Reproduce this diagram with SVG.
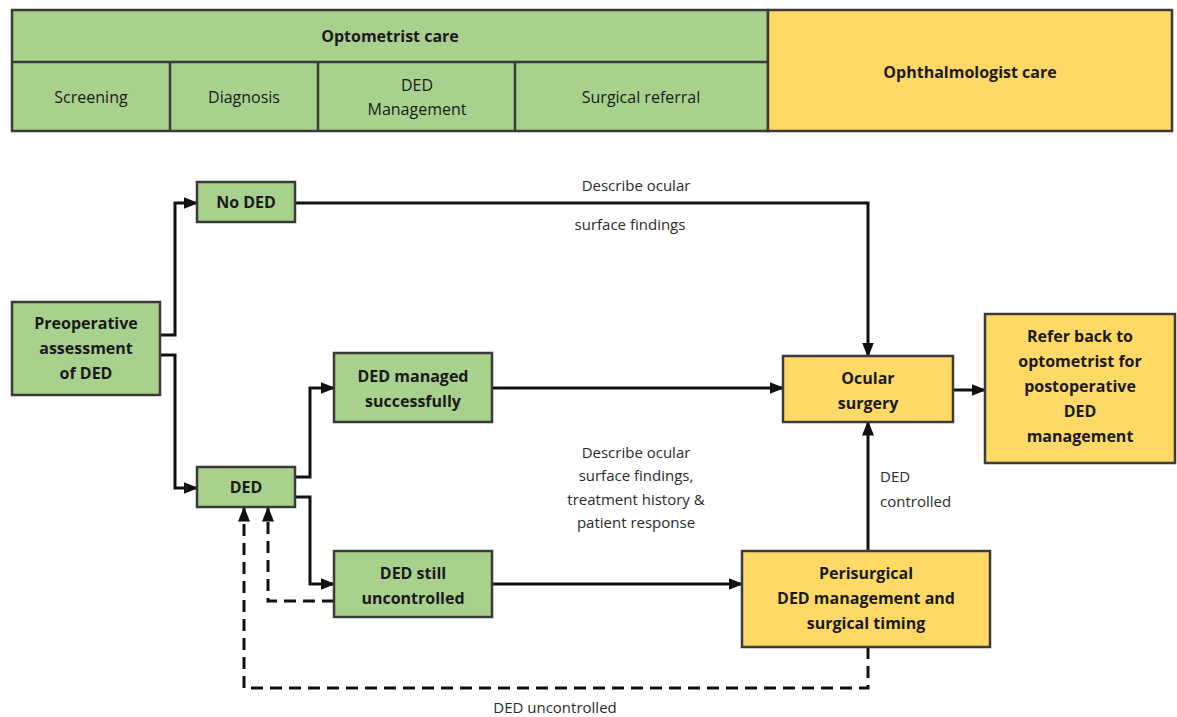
<svg xmlns="http://www.w3.org/2000/svg" width="1177" height="717" viewBox="0 0 1177 717">
<defs>
<marker id="ah" viewBox="0 0 10 10" refX="9" refY="5" markerWidth="5" markerHeight="5" orient="auto" markerUnits="strokeWidth">
<path d="M0,1 L10,5 L0,9 z" fill="#111"/>
</marker>
<style>
.g{fill:#a9d18e;stroke:#3a3a3a;stroke-width:2.5}
.y{fill:#ffd966;stroke:#3a3a3a;stroke-width:2.5}
.t{font-family:"Open Sans","Liberation Sans",sans-serif;font-size:16px;fill:#1a1a1a;text-anchor:middle}
.b{font-weight:bold}
.l{font-family:"Open Sans","Liberation Sans",sans-serif;font-size:15px;fill:#2a2a2a;text-anchor:middle}
.c{fill:none;stroke:#111;stroke-width:3}
.d{fill:none;stroke:#111;stroke-width:3;stroke-dasharray:12 7}
</style>
</defs>
<rect width="1177" height="717" fill="#fff"/>
<g id="header">
<rect class="g" x="12" y="10" width="756" height="121"/>
<rect class="y" x="768" y="10" width="404" height="121"/>
<line x1="12" y1="62" x2="768" y2="62" stroke="#3a3a3a" stroke-width="2.5"/>
<line x1="170" y1="62" x2="170" y2="131" stroke="#3a3a3a" stroke-width="2.5"/>
<line x1="318" y1="62" x2="318" y2="131" stroke="#3a3a3a" stroke-width="2.5"/>
<line x1="515" y1="62" x2="515" y2="131" stroke="#3a3a3a" stroke-width="2.5"/>
<text class="t b" x="390" y="42">Optometrist care</text>
<text class="t" x="91" y="103">Screening</text>
<text class="t" x="244" y="103">Diagnosis</text>
<text class="t" x="417" y="91">DED</text>
<text class="t" x="417" y="115">Management</text>
<text class="t" x="641" y="103">Surgical referral</text>
<text class="t b" x="970" y="78">Ophthalmologist care</text>
</g>
<g id="connectors">
<path class="c" d="M160,335 H175 V203 H197" marker-end="url(#ah)"/>
<path class="c" d="M160,355 H175 V488 H197" marker-end="url(#ah)"/>
<path class="c" d="M295,203 H868 V356" marker-end="url(#ah)"/>
<path class="c" d="M295,477 H310 V388 H334" marker-end="url(#ah)"/>
<path class="c" d="M295,497 H310 V584 H334" marker-end="url(#ah)"/>
<path class="c" d="M492,388 H783" marker-end="url(#ah)"/>
<path class="c" d="M492,584 H742" marker-end="url(#ah)"/>
<path class="c" d="M868,551 V422" marker-end="url(#ah)"/>
<path class="c" d="M953,390 H985" marker-end="url(#ah)"/>
<path class="d" d="M334,601 H268 V508" marker-end="url(#ah)"/>
<path class="d" d="M868,647 V688 H244 V508" marker-end="url(#ah)"/>
<text class="l" x="636" y="191">Describe ocular</text>
<text class="l" x="630" y="230">surface findings</text>
<text class="l" x="636" y="458">Describe ocular</text>
<text class="l" x="636" y="481">surface findings,</text>
<text class="l" x="636" y="505">treatment history &amp;</text>
<text class="l" x="636" y="528">patient response</text>
<text class="l" x="880" y="482" style="text-anchor:start">DED</text>
<text class="l" x="880" y="507" style="text-anchor:start">controlled</text>
<text class="l" x="555" y="713">DED uncontrolled</text>
</g>
<g id="preop">
<rect class="g" x="12" y="302" width="148" height="93"/>
<text class="t b" x="86" y="329">Preoperative</text>
<text class="t b" x="86" y="354">assessment</text>
<text class="t b" x="86" y="379">of DED</text>
</g>
<g id="noded">
<rect class="g" x="197" y="182" width="98" height="40"/>
<text class="t b" x="246" y="208">No DED</text>
</g>
<g id="ded">
<rect class="g" x="197" y="467" width="98" height="40"/>
<text class="t b" x="246" y="493">DED</text>
</g>
<g id="managed">
<rect class="g" x="334" y="353" width="158" height="69"/>
<text class="t b" x="413" y="382">DED managed</text>
<text class="t b" x="413" y="407">successfully</text>
</g>
<g id="uncontrolled">
<rect class="g" x="334" y="551" width="158" height="66"/>
<text class="t b" x="413" y="579">DED still</text>
<text class="t b" x="413" y="604">uncontrolled</text>
</g>
<g id="surgery">
<rect class="y" x="783" y="356" width="170" height="66"/>
<text class="t b" x="868" y="384">Ocular</text>
<text class="t b" x="868" y="409">surgery</text>
</g>
<g id="referback">
<rect class="y" x="985" y="314" width="190" height="149"/>
<text class="t b" x="1080" y="342">Refer back to</text>
<text class="t b" x="1080" y="367">optometrist for</text>
<text class="t b" x="1080" y="392">postoperative</text>
<text class="t b" x="1080" y="417">DED</text>
<text class="t b" x="1080" y="442">management</text>
</g>
<g id="perisurgical">
<rect class="y" x="742" y="551" width="248" height="96"/>
<text class="t b" x="866" y="579">Perisurgical</text>
<text class="t b" x="866" y="604">DED management and</text>
<text class="t b" x="866" y="629">surgical timing</text>
</g>
</svg>
